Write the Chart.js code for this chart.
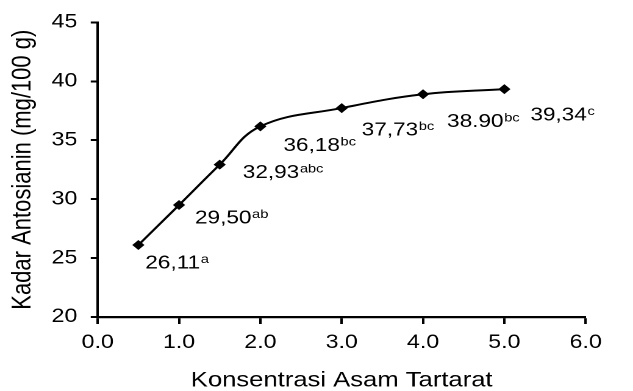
<!DOCTYPE html>
<html><head><meta charset="utf-8">
<script src="https://cdn.jsdelivr.net/npm/chart.js@4/dist/chart.umd.min.js"></script>
<style>
html,body{margin:0;padding:0;background:#fff;overflow:hidden;}
#wrap{width:519px;height:391px;transform:scaleX(1.2197);transform-origin:0 0;}
canvas{display:block;}
</style></head><body>
<div id="wrap"><canvas id="c" width="519" height="391"></canvas></div>
<script>
// ---- data ----
const concentrations = [0.5, 1.0, 1.5, 2.0, 3.0, 4.0, 5.0];
const anthocyanin   = [26.11, 29.50, 32.93, 36.18, 37.73, 38.90, 39.34];
const valueLabels   = ["26,11", "29,50", "32,93", "36,18", "37,73", "38.90", "39,34"];
const letterLabels  = ["a", "ab", "abc", "bc", "bc", "bc", "c"];
const xTicks = [0, 1, 2, 3, 4, 5, 6];
const yTicks = [20, 25, 30, 35, 40, 45];
const xTitle = "Konsentrasi Asam Tartarat";
const yTitle = "Kadar Antosianin (mg/100 g)";

const FONT = '"Liberation Sans", Arial, sans-serif';
const labelOffsets = [[5.7,17],[13.1,12],[18.9,7],[18.9,18],[16.4,21],[19.7,26],[21.3,25]];

const labelPlugin = {
  id: 'valueLabels',
  afterDatasetsDraw(chart) {
    const ctx = chart.ctx;
    const meta = chart.getDatasetMeta(0);
    ctx.save();
    ctx.fillStyle = '#000';
    ctx.textAlign = 'left';
    ctx.textBaseline = 'alphabetic';
    meta.data.forEach((pt, i) => {
      const [dx, dy] = labelOffsets[i];
      const x = pt.x + dx;
      const base = pt.y + dy + 6.6;
      ctx.font = '18.5px ' + FONT;
      ctx.fillText(valueLabels[i], x, base);
      const w = ctx.measureText(valueLabels[i]).width;
      ctx.font = '12px ' + FONT;
      ctx.fillText(letterLabels[i], x + w + 0.5, base - 5.5);
    });
    ctx.restore();
  }
};

const data = concentrations.map((c, i) => ({x: c, y: anthocyanin[i]}));

new Chart(document.getElementById('c'), {
  type: 'scatter',
  data: {
    datasets: [{
      data: data,
      showLine: true,
      tension: 0.4,
      borderColor: '#000',
      borderWidth: 2,
      pointStyle: 'rectRot',
      pointRadius: 5,
      pointHoverRadius: 5,
      pointBackgroundColor: '#000',
      pointBorderColor: '#000',
      pointBorderWidth: 0
    }]
  },
  options: {
    responsive: false,
    animation: false,
    devicePixelRatio: 2,
    events: [],
    layout: { padding: { top: 21, right: 38.8, left: 0, bottom: 0 } },
    plugins: { legend: { display: false }, tooltip: { enabled: false } },
    scales: {
      x: {
        type: 'linear',
        min: xTicks[0], max: xTicks[xTicks.length - 1],
        afterBuildTicks: s => { s.ticks = xTicks.map(v => ({value: v})); },
        afterFit: s => { s.height = 74; },
        border: { display: true, color: '#000', width: 2.2 },
        grid: { drawOnChartArea: false, drawTicks: true, tickLength: 7, tickColor: '#000', tickWidth: 2 },
        ticks: { color: '#000', font: { family: FONT, size: 19 }, padding: 7.6, callback: v => Number(v).toFixed(1), maxRotation: 0 },
        title: { display: true, text: xTitle, color: '#000', font: { family: FONT, size: 21, lineHeight: 1 }, padding: { top: 0, bottom: 0 } }
      },
      y: {
        type: 'linear',
        min: yTicks[0], max: yTicks[yTicks.length - 1],
        afterBuildTicks: s => { s.ticks = yTicks.map(v => ({value: v})); },
        afterFit: s => { s.width = 80.1; },
        border: { display: true, color: '#000', width: 2 },
        grid: { drawOnChartArea: false, drawTicks: true, tickLength: 5.7, tickColor: '#000', tickWidth: 2 },
        ticks: { color: '#000', font: { family: FONT, size: 19 }, padding: 11 },
        title: { display: true, text: yTitle, color: '#000', font: { family: FONT, size: 22, lineHeight: 1.2 }, padding: { top: 5.7, bottom: 0 } }
      }
    }
  },
  plugins: [labelPlugin]
});
</script>
</body></html>
